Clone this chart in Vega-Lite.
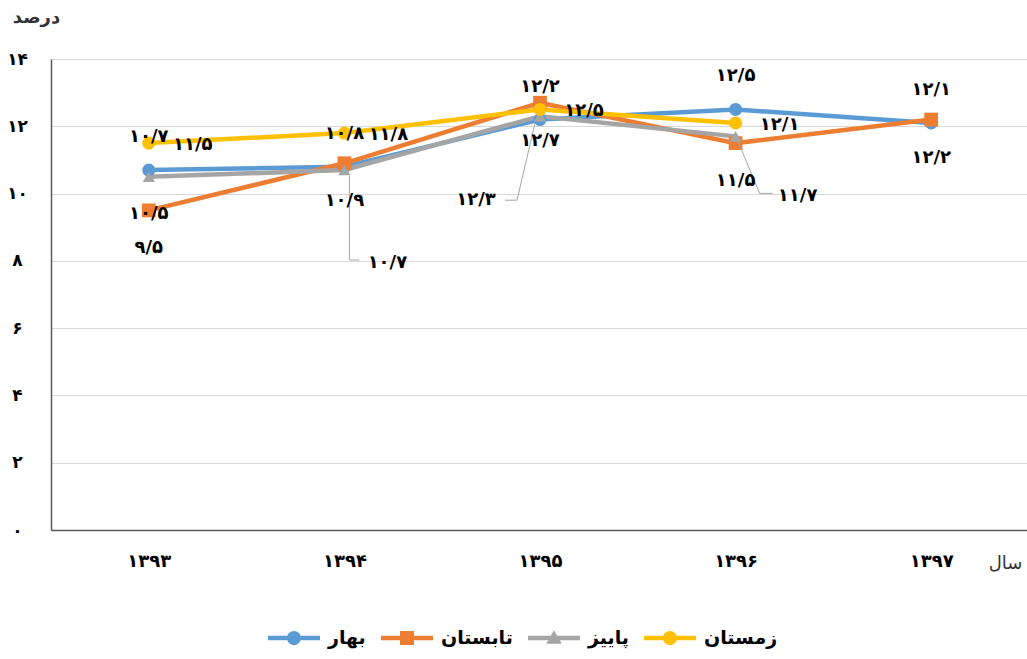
{
  "$schema": "https://vega.github.io/schema/vega-lite/v6.json",
  "autosize": "none",
  "width": 978,
  "height": 471,
  "padding": {"left": 51, "top": 59, "right": 0, "bottom": 129},
  "background": "white",
  "config": {
    "view": {"stroke": null},
    "font": "DejaVu Sans",
    "locale": {
      "number": {
        "decimal": "/",
        "thousands": ",",
        "grouping": [3],
        "currency": ["", ""],
        "numerals": ["۰", "۱", "۲", "۳", "۴", "۵", "۶", "۷", "۸", "۹"]
      }
    }
  },
  "resolve": {"legend": {"color": "independent", "shape": "independent"}},
  "data": {
    "values": [
      {"season": "بهار", "year": "۱۳۹۳", "value": 10.7},
      {"season": "بهار", "year": "۱۳۹۴", "value": 10.8},
      {"season": "بهار", "year": "۱۳۹۵", "value": 12.2},
      {"season": "بهار", "year": "۱۳۹۶", "value": 12.5},
      {"season": "بهار", "year": "۱۳۹۷", "value": 12.1},
      {"season": "تابستان", "year": "۱۳۹۳", "value": 9.5},
      {"season": "تابستان", "year": "۱۳۹۴", "value": 10.9},
      {"season": "تابستان", "year": "۱۳۹۵", "value": 12.7},
      {"season": "تابستان", "year": "۱۳۹۶", "value": 11.5},
      {"season": "تابستان", "year": "۱۳۹۷", "value": 12.2},
      {"season": "پاییز", "year": "۱۳۹۳", "value": 10.5},
      {"season": "پاییز", "year": "۱۳۹۴", "value": 10.7},
      {"season": "پاییز", "year": "۱۳۹۵", "value": 12.3},
      {"season": "پاییز", "year": "۱۳۹۶", "value": 11.7},
      {"season": "زمستان", "year": "۱۳۹۳", "value": 11.5},
      {"season": "زمستان", "year": "۱۳۹۴", "value": 11.8},
      {"season": "زمستان", "year": "۱۳۹۵", "value": 12.5},
      {"season": "زمستان", "year": "۱۳۹۶", "value": 12.1}
    ]
  },
  "encoding": {
    "x": {
      "field": "year", "type": "ordinal",
      "scale": {"type": "point", "padding": 0.5, "domain": ["۱۳۹۳", "۱۳۹۴", "۱۳۹۵", "۱۳۹۶", "۱۳۹۷"]},
      "axis": {
        "title": "سال", "titleX": 954, "titleY": 33, "titleAlign": "center", "titleBaseline": "middle",
        "titleFont": "DejaVu Sans", "titleFontSize": 18, "titleFontWeight": "normal", "titleColor": "#333333",
        "labelAngle": 0, "labelFont": "DejaVu Sans", "labelFontSize": 18, "labelFontWeight": "bold", "labelColor": "#000000",
        "labelPadding": 22, "ticks": false, "grid": false, "domainColor": "#595959", "domainWidth": 1.5
      }
    },
    "y": {
      "field": "value", "type": "quantitative",
      "scale": {"domain": [0, 14], "nice": false},
      "axis": {
        "title": "درصد", "titleAngle": 0, "titleX": -15, "titleY": -42, "titleAlign": "center", "titleBaseline": "middle",
        "titleFont": "DejaVu Sans", "titleFontSize": 18, "titleFontWeight": "bold", "titleColor": "#333333",
        "values": [0, 2, 4, 6, 8, 10, 12, 14], "format": "d",
        "labelFont": "DejaVu Sans", "labelFontSize": 17, "labelFontWeight": "bold", "labelColor": "#000000",
        "labelAlign": "center", "labelBaseline": "middle", "labelPadding": 34,
        "ticks": false, "gridColor": "#D9D9D9", "gridWidth": 1, "domainColor": "#595959", "domainWidth": 1.5
      }
    },
    "color": {
      "field": "season", "type": "nominal",
      "scale": {"domain": ["بهار", "تابستان", "پاییز", "زمستان"], "range": ["#5B9BD5", "#ED7D31", "#A5A5A5", "#FFC000"]},
      "legend": null
    }
  },
  "layer": [
    {"mark": {"type": "line", "strokeWidth": 4.5}},
    {"transform": [{"filter": "datum.season === 'بهار'"}], "mark": {"type": "point", "shape": "circle", "filled": true, "size": 170, "opacity": 1}},
    {"transform": [{"filter": "datum.season === 'تابستان'"}], "mark": {"type": "point", "shape": "square", "filled": true, "size": 190, "opacity": 1}},
    {"transform": [{"filter": "datum.season === 'پاییز'"}], "mark": {"type": "point", "shape": "triangle-up", "filled": true, "size": 150, "opacity": 1}},
    {"transform": [{"filter": "datum.season === 'زمستان'"}], "mark": {"type": "point", "shape": "circle", "filled": true, "size": 170, "opacity": 1}},
    {
      "mark": {"type": "point", "filled": true, "size": 2704, "opacity": 0},
      "encoding": {
        "color": {
          "field": "season", "type": "nominal",
          "scale": {"domain": ["بهار", "تابستان", "پاییز", "زمستان"], "range": ["#5B9BD5", "#ED7D31", "#A5A5A5", "#FFC000"]},
          "legend": {
            "title": null, "orient": "none", "legendX": 217, "legendY": 553, "direction": "horizontal",
            "labelFont": "DejaVu Sans", "labelFontSize": 19, "labelFontWeight": "bold", "labelColor": "#000000",
            "symbolSize": 2704, "symbolStrokeWidth": 0, "symbolOpacity": 1, "labelOffset": 8, "columnPadding": 15, "padding": 0
          }
        },
        "shape": {
          "field": "season", "type": "nominal",
          "scale": {
            "domain": ["بهار", "تابستان", "پاییز", "زمستان"],
            "range": [
              "M-1,-0.09H1V0.09H-1Z M-0.27,0A0.27,0.27 0 1,1 0.27,0A0.27,0.27 0 1,1 -0.27,0Z",
              "M-1,-0.09H1V0.09H-1Z M-0.27,-0.27H0.27V0.27H-0.27Z",
              "M-1,-0.09H1V0.09H-1Z M0,-0.3L0.3,0.22L-0.3,0.22Z",
              "M-1,-0.09H1V0.09H-1Z M-0.27,0A0.27,0.27 0 1,1 0.27,0A0.27,0.27 0 1,1 -0.27,0Z"
            ]
          },
          "legend": {
            "title": null, "orient": "none", "legendX": 217, "legendY": 553, "direction": "horizontal",
            "labelFont": "DejaVu Sans", "labelFontSize": 19, "labelFontWeight": "bold", "labelColor": "#000000",
            "symbolSize": 2704, "symbolStrokeWidth": 0, "symbolOpacity": 1, "labelOffset": 8, "columnPadding": 15, "padding": 0
          }
        }
      }
    },
    {"transform": [{"filter": "datum.season === 'پاییز' && datum.year === '۱۳۹۴'"}], "mark": {"type": "rule", "strokeWidth": 1, "xOffset": 5, "yOffset": 6, "x2Offset": 5, "y2Offset": 90}, "encoding": {"x2": {"field": "year"}, "y2": {"field": "value"}, "color": {"value": "#A6A6A6"}}},
    {"transform": [{"filter": "datum.season === 'پاییز' && datum.year === '۱۳۹۴'"}], "mark": {"type": "rule", "strokeWidth": 1, "xOffset": 5, "yOffset": 90, "x2Offset": 15, "y2Offset": 90}, "encoding": {"x2": {"field": "year"}, "y2": {"field": "value"}, "color": {"value": "#A6A6A6"}}},
    {"transform": [{"filter": "datum.season === 'پاییز' && datum.year === '۱۳۹۵'"}], "mark": {"type": "rule", "strokeWidth": 1, "xOffset": -5, "yOffset": 7, "x2Offset": -23, "y2Offset": 84}, "encoding": {"x2": {"field": "year"}, "y2": {"field": "value"}, "color": {"value": "#A6A6A6"}}},
    {"transform": [{"filter": "datum.season === 'پاییز' && datum.year === '۱۳۹۵'"}], "mark": {"type": "rule", "strokeWidth": 1, "xOffset": -23, "yOffset": 84, "x2Offset": -35, "y2Offset": 84}, "encoding": {"x2": {"field": "year"}, "y2": {"field": "value"}, "color": {"value": "#A6A6A6"}}},
    {"transform": [{"filter": "datum.season === 'پاییز' && datum.year === '۱۳۹۶'"}], "mark": {"type": "rule", "strokeWidth": 1, "xOffset": 2, "yOffset": 4, "x2Offset": 24, "y2Offset": 57}, "encoding": {"x2": {"field": "year"}, "y2": {"field": "value"}, "color": {"value": "#A6A6A6"}}},
    {"transform": [{"filter": "datum.season === 'پاییز' && datum.year === '۱۳۹۶'"}], "mark": {"type": "rule", "strokeWidth": 1, "xOffset": 24, "yOffset": 57, "x2Offset": 37, "y2Offset": 57}, "encoding": {"x2": {"field": "year"}, "y2": {"field": "value"}, "color": {"value": "#A6A6A6"}}},
    {"transform": [{"filter": "datum.season === 'بهار'"}], "mark": {"type": "text", "dy": -33, "font": "DejaVu Sans", "fontSize": 18, "fontWeight": "bold", "baseline": "middle"}, "encoding": {"text": {"field": "value", "type": "quantitative", "format": ".1f"}, "color": {"value": "#000000"}}},
    {"transform": [{"filter": "datum.season === 'تابستان'"}], "mark": {"type": "text", "dy": 38, "font": "DejaVu Sans", "fontSize": 18, "fontWeight": "bold", "baseline": "middle"}, "encoding": {"text": {"field": "value", "type": "quantitative", "format": ".1f"}, "color": {"value": "#000000"}}},
    {"transform": [{"filter": "datum.season === 'زمستان'"}], "mark": {"type": "text", "dx": 44, "dy": 2, "font": "DejaVu Sans", "fontSize": 18, "fontWeight": "bold", "baseline": "middle"}, "encoding": {"text": {"field": "value", "type": "quantitative", "format": ".1f"}, "color": {"value": "#000000"}}},
    {"transform": [{"filter": "datum.season === 'پاییز' && datum.year === '۱۳۹۳'"}], "mark": {"type": "text", "dy": 37, "font": "DejaVu Sans", "fontSize": 18, "fontWeight": "bold", "baseline": "middle"}, "encoding": {"text": {"field": "value", "type": "quantitative", "format": ".1f"}, "color": {"value": "#000000"}}},
    {"transform": [{"filter": "datum.season === 'پاییز' && datum.year === '۱۳۹۴'"}], "mark": {"type": "text", "dx": 43, "dy": 93, "font": "DejaVu Sans", "fontSize": 18, "fontWeight": "bold", "baseline": "middle"}, "encoding": {"text": {"field": "value", "type": "quantitative", "format": ".1f"}, "color": {"value": "#000000"}}},
    {"transform": [{"filter": "datum.season === 'پاییز' && datum.year === '۱۳۹۵'"}], "mark": {"type": "text", "dx": -64, "dy": 84, "font": "DejaVu Sans", "fontSize": 18, "fontWeight": "bold", "baseline": "middle"}, "encoding": {"text": {"field": "value", "type": "quantitative", "format": ".1f"}, "color": {"value": "#000000"}}},
    {"transform": [{"filter": "datum.season === 'پاییز' && datum.year === '۱۳۹۶'"}], "mark": {"type": "text", "dx": 62, "dy": 60, "font": "DejaVu Sans", "fontSize": 18, "fontWeight": "bold", "baseline": "middle"}, "encoding": {"text": {"field": "value", "type": "quantitative", "format": ".1f"}, "color": {"value": "#000000"}}}
  ]
}
